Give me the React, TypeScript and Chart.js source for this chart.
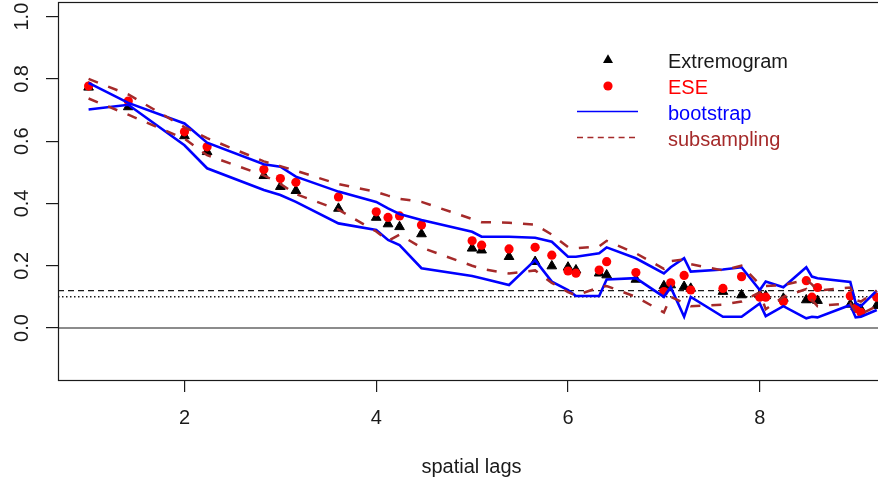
import React, { useEffect, useRef } from "react";
import { Chart, registerables } from "chart.js";

Chart.register(...registerables);

// ---- data ----
const LAGS = [1, 1.414, 2, 2.236, 2.828, 3, 3.162, 3.606, 4, 4.123, 4.243, 4.472, 5, 5.099, 5.385, 5.657, 5.831, 6, 6.083, 6.325, 6.403, 6.708, 7, 7.071, 7.211, 7.28, 7.616, 7.81, 8, 8.062, 8.246, 8.485, 8.544, 8.602, 8.944, 9, 9.055, 9.22];
const EXTREMOGRAM = [0.773, 0.71, 0.617, 0.566, 0.489, 0.454, 0.441, 0.384, 0.355, 0.334, 0.325, 0.302, 0.256, 0.25, 0.229, 0.213, 0.199, 0.195, 0.186, 0.176, 0.17, 0.156, 0.135, 0.138, 0.133, 0.127, 0.117, 0.106, 0.106, 0.103, 0.095, 0.09, 0.092, 0.088, 0.076, 0.068, 0.06, 0.072];
const ESE = [0.777, 0.729, 0.63, 0.582, 0.509, 0.48, 0.468, 0.421, 0.373, 0.355, 0.36, 0.331, 0.28, 0.266, 0.254, 0.259, 0.234, 0.183, 0.176, 0.186, 0.213, 0.178, 0.117, 0.145, 0.169, 0.122, 0.127, 0.165, 0.099, 0.099, 0.085, 0.152, 0.099, 0.13, 0.103, 0.063, 0.05, 0.099];
const BOOT_UPPER = [0.787, 0.723, 0.657, 0.595, 0.526, 0.518, 0.486, 0.438, 0.405, 0.384, 0.366, 0.347, 0.309, 0.293, 0.293, 0.29, 0.277, 0.229, 0.229, 0.24, 0.259, 0.224, 0.175, 0.195, 0.224, 0.181, 0.188, 0.195, 0.122, 0.149, 0.131, 0.195, 0.165, 0.16, 0.148, 0.08, 0.07, 0.12];
const BOOT_LOWER = [0.702, 0.717, 0.587, 0.513, 0.443, 0.427, 0.405, 0.336, 0.315, 0.283, 0.266, 0.192, 0.167, 0.16, 0.138, 0.218, 0.149, 0.122, 0.103, 0.103, 0.156, 0.16, 0.1, 0.131, 0.036, 0.1, 0.036, 0.036, 0.079, 0.038, 0.07, 0.031, 0.036, 0.034, 0.074, 0.034, 0.036, 0.058];
const SUB_UPPER = [0.8, 0.75, 0.645, 0.61, 0.535, 0.52, 0.505, 0.462, 0.437, 0.425, 0.415, 0.405, 0.35, 0.34, 0.338, 0.332, 0.3, 0.26, 0.256, 0.262, 0.28, 0.24, 0.19, 0.215, 0.22, 0.205, 0.185, 0.2, 0.14, 0.135, 0.138, 0.155, 0.14, 0.12, 0.13, 0.09, 0.085, 0.12];
const SUB_LOWER = [0.737, 0.685, 0.608, 0.555, 0.49, 0.463, 0.43, 0.38, 0.31, 0.28, 0.3, 0.258, 0.2, 0.19, 0.175, 0.185, 0.145, 0.115, 0.105, 0.13, 0.135, 0.1, 0.05, 0.1, 0.08, 0.07, 0.075, 0.085, 0.115, 0.06, 0.1, 0.125, 0.09, 0.07, 0.08, 0.05, 0.045, 0.07];
const X_TICKS = [2, 4, 6, 8];
const Y_TICKS = [0, 0.2, 0.4, 0.6, 0.8, 1.0];
const X_MIN = 0.681;
const X_MAX = 9.306;
const Y_MIN = -0.167;
const Y_MAX = 1.047;
const ZERO_LEVEL = 0;
const DASHED_LEVEL = 0.12;
const DOTTED_LEVEL = 0.1;
const LEGEND_LABELS = ["Extremogram", "ESE", "bootstrap", "subsampling"];
const X_TITLE = "spatial lags";

const FONT = "'Liberation Sans', Arial, sans-serif";
const INK = "#1a1a1a";
const BLUE = "#0000ff";
const BROWN = "#a52a2a";
const RED = "#ff0000";

const pts = (ys: number[]) => LAGS.map((x, i) => ({ x, y: ys[i] }));
const hline = (v: number) => [{ x: X_MIN, y: v }, { x: X_MAX, y: v }];

const boxAndLegend = {
  id: "boxAndLegend",
  afterDraw(chart: any) {
    const { ctx, chartArea } = chart;
    ctx.save();
    ctx.strokeStyle = INK;
    ctx.lineWidth = 1.2;
    ctx.strokeRect(Math.round(chartArea.left) + 0.5, Math.round(chartArea.top) + 0.5, chartArea.right - chartArea.left, chartArea.bottom - chartArea.top);

    // legend
    const colors = [INK, RED, BLUE, BROWN];
    const textX = 668;
    const baselines = [68, 94, 120, 146];
    const markX = 608;
    ctx.font = `20px ${FONT}`;
    ctx.textBaseline = "alphabetic";
    ctx.textAlign = "left";
    LEGEND_LABELS.forEach((t, i) => {
      ctx.fillStyle = colors[i];
      ctx.fillText(t, textX, baselines[i]);
    });
    // triangle
    const r = 5.8;
    const cy = 60;
    ctx.fillStyle = "#000";
    ctx.beginPath();
    ctx.moveTo(markX, cy - r);
    ctx.lineTo(markX + r * Math.sin((2 * Math.PI) / 3), cy - r * Math.cos((2 * Math.PI) / 3));
    ctx.lineTo(markX + r * Math.sin((4 * Math.PI) / 3), cy - r * Math.cos((4 * Math.PI) / 3));
    ctx.closePath();
    ctx.fill();
    // dot
    ctx.fillStyle = RED;
    ctx.beginPath();
    ctx.arc(markX, 86, 4.6, 0, Math.PI * 2);
    ctx.fill();
    // blue line
    ctx.strokeStyle = BLUE;
    ctx.lineWidth = 1.3;
    ctx.beginPath();
    ctx.moveTo(577, 111.5);
    ctx.lineTo(638, 111.5);
    ctx.stroke();
    // brown dashed
    ctx.strokeStyle = BROWN;
    ctx.setLineDash([6, 4.4]);
    ctx.beginPath();
    ctx.moveTo(577, 137.5);
    ctx.lineTo(638, 137.5);
    ctx.stroke();
    ctx.restore();
  },
};

export default function App() {
  const ref = useRef<HTMLCanvasElement | null>(null);
  useEffect(() => {
    if (!ref.current) return;
    const lineDs = (data: any[], color: string, width: number, dash: number[], order: number) => ({
      type: "line",
      data,
      borderColor: color,
      backgroundColor: color,
      borderWidth: width,
      borderDash: dash,
      pointRadius: 0,
      showLine: true,
      fill: false,
      tension: 0,
      order,
    });
    const chart = new Chart(ref.current, {
      type: "scatter",
      data: {
        datasets: [
          lineDs(pts(SUB_UPPER), BROWN, 2.5, [10, 11], 0),
          lineDs(pts(SUB_LOWER), BROWN, 2.5, [10, 11], 0),
          lineDs(pts(BOOT_UPPER), BLUE, 2.6, [], 1),
          lineDs(pts(BOOT_LOWER), BLUE, 2.6, [], 1),
          {
            data: pts(ESE),
            pointStyle: "circle",
            pointRadius: 4.6,
            pointBackgroundColor: RED,
            pointBorderColor: RED,
            pointBorderWidth: 0,
            order: 2,
          },
          {
            data: pts(EXTREMOGRAM),
            pointStyle: "triangle",
            pointRadius: 5.6,
            pointBackgroundColor: "#000",
            pointBorderColor: "#000",
            pointBorderWidth: 1,
            order: 3,
          },
          lineDs(hline(ZERO_LEVEL), INK, 1.2, [], 4),
          lineDs(hline(DASHED_LEVEL), INK, 1.2, [6, 4], 4),
          lineDs(hline(DOTTED_LEVEL), INK, 1.5, [1.5, 2.5], 4),
        ] as any,
      },
      options: {
        animation: false,
        responsive: false,
        devicePixelRatio: 1,
        layout: { autoPadding: false, padding: { top: 2, right: 15, bottom: 0, left: 0 } },
        plugins: { legend: { display: false }, tooltip: { enabled: false } },
        scales: {
          x: {
            type: "linear",
            min: X_MIN,
            max: X_MAX,
            afterBuildTicks: (s: any) => {
              s.ticks = X_TICKS.map((v) => ({ value: v }));
            },
            afterFit: (s: any) => {
              s.height = 105;
              s.paddingLeft = 0;
              s.paddingRight = 0;
            },
            grid: { display: true, drawOnChartArea: false, drawTicks: true, tickLength: 12, color: INK, lineWidth: 1.2 },
            border: { display: false },
            ticks: {
              color: INK,
              font: { family: FONT, size: 20 },
              padding: 14,
              maxRotation: 0,
              minRotation: 0,
              callback: (v: any) => String(v),
            },
            title: {
              display: true,
              text: X_TITLE,
              color: INK,
              font: { family: FONT, size: 20 },
              padding: { top: 0, bottom: 6 },
            },
          },
          y: {
            type: "linear",
            min: Y_MIN,
            max: Y_MAX,
            afterBuildTicks: (s: any) => {
              s.ticks = Y_TICKS.map((v) => ({ value: v }));
            },
            afterFit: (s: any) => {
              s.width = 58;
              s.paddingTop = 0;
              s.paddingBottom = 0;
            },
            grid: { display: true, drawOnChartArea: false, drawTicks: true, tickLength: 12, color: INK, lineWidth: 1.2 },
            border: { display: false },
            ticks: {
              color: INK,
              font: { family: FONT, size: 20 },
              padding: 10,
              minRotation: 90,
              maxRotation: 90,
              crossAlign: "center",
              callback: (v: any) => Number(v).toFixed(1),
            },
          },
        },
      },
      plugins: [boxAndLegend],
    } as any);
    return () => chart.destroy();
  }, []);
  return (
    <div style={{ position: "fixed", left: 0, top: 0, width: 878, height: 485, overflow: "hidden", background: "#fff" }}>
      <canvas ref={ref} width={900} height={485} style={{ width: 900, height: 485, display: "block" }} />
    </div>
  );
}
